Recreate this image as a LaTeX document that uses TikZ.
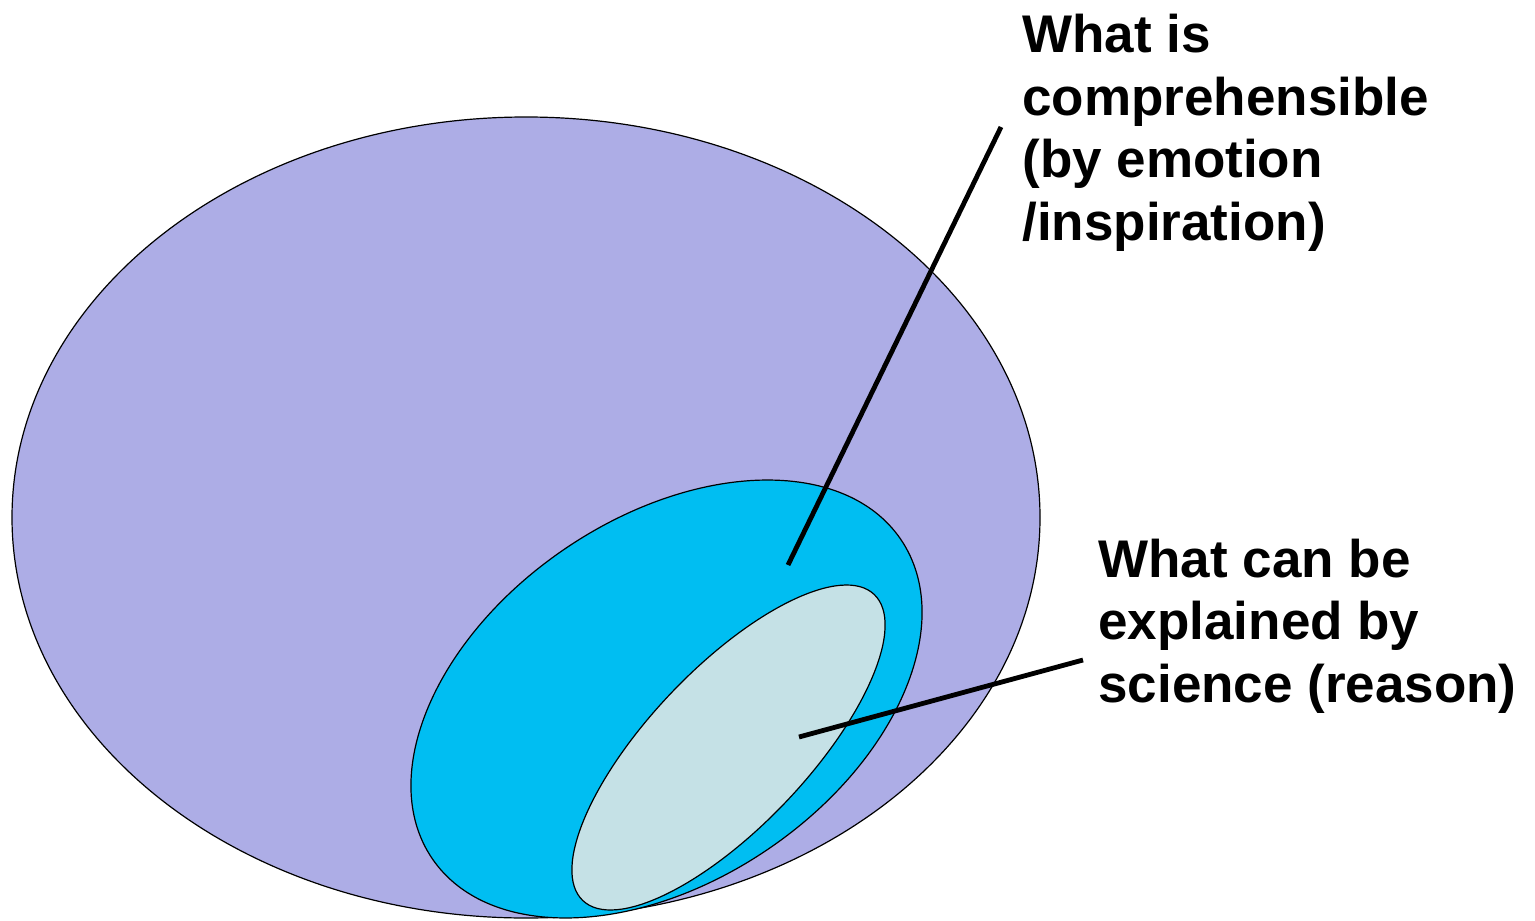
\documentclass[tikz,border=0pt]{standalone}
\usepackage{fontspec}
\setmainfont{Liberation Sans}
\definecolor{outerfill}{RGB}{173,173,230}
\definecolor{midfill}{RGB}{0,190,242}
\definecolor{innerfill}{RGB}{197,225,230}
\tikzset{
  region/.style={draw=black, line width=0.6pt},
  leader/.style={draw=black, line width=2.4pt},
  label/.style={inner sep=0pt, anchor=base west, align=left,
    font=\fontsize{26.5pt}{31.2pt}\selectfont\bfseries}
}
\begin{document}
\begin{tikzpicture}[x=0.5pt, y=-0.5pt]
\useasboundingbox (0,0) rectangle (1535,920);
% regions
\path[region, fill=outerfill] (526,517.5) ellipse [x radius=514, y radius=400.5];
\path[region, fill=midfill, rotate around={34.3:(666.5,699)}] (666.5,699) ellipse [x radius=283.5, y radius=181.3];
\path[region, fill=innerfill, rotate around={46.4:(728.5,747.5)}] (728.5,747.5) ellipse [x radius=211.3, y radius=79.1];
% labels (anchored at the baseline of the last line)
\node[label] (comp) at (1022,240) {What is\\comprehensible\\(by emotion\\/inspiration)};
\node[label] (sci) at (1098,702) {What can be\\explained by\\science (reason)};
% leader lines
\coordinate (l1a) at (1001,127);
\coordinate (l1b) at (788,565);
\coordinate (l2a) at (1083,660);
\coordinate (l2b) at (799,737);
\draw[leader] (l1a) -- (l1b);
\draw[leader] (l2a) -- (l2b);
\end{tikzpicture}
\end{document}
